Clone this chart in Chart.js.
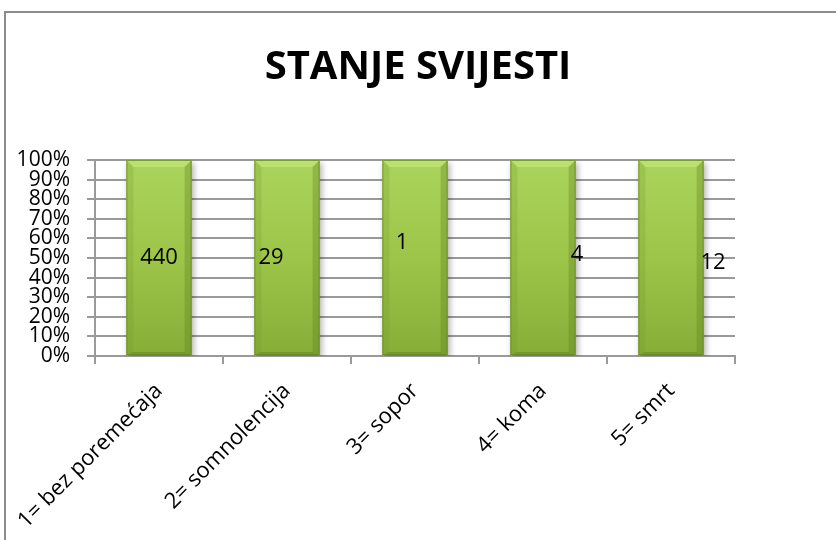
<!DOCTYPE html>
<html>
<head>
<meta charset="utf-8">
<script src="https://cdn.jsdelivr.net/npm/chart.js@4.4.0/dist/chart.umd.min.js"></script>
<style>
  html,body{margin:0;padding:0;background:#fff;overflow:hidden;}
  #wrap{position:relative;width:836px;height:540px;}
  #frame{position:absolute;left:4px;top:11px;width:900px;height:600px;border-left:2px solid #8c8c8c;border-top:2px solid #8c8c8c;}
  canvas{position:absolute;left:0;top:0;}
</style>
</head>
<body>
<div id="wrap">
  <div id="frame"></div>
  <canvas id="c" width="836" height="540"></canvas>
</div>
<script>
// data
var categories = ['1= bez poremećaja', '2= somnolencija', '3= sopor', '4= koma', '5= smrt'];
var counts = [440, 29, 1, 4, 12];
var yTicks = [0, 10, 20, 30, 40, 50, 60, 70, 80, 90, 100];

// label placement (px offset from bar centre, value-axis %)
var labelDx = [0, -16, -13, 34, 42];
var labelY = [50, 50, 57.6, 51.5, 47.4];

// single series in a 100% stacked chart -> every bar fills its column
var shares = counts.map(function (v) { var tot = v; return tot ? v / tot * 100 : 0; });

var FONT = "'Open Sans', sans-serif";

function barFill(context) {
    var chart = context.chart;
    var area = chart.chartArea;
    if (!area) return '#9cc44a';
    var g = chart.ctx.createLinearGradient(0, area.top, 0, area.bottom);
    g.addColorStop(0, '#abd45c');
    g.addColorStop(0.5, '#9cc549');
    g.addColorStop(1, '#87ad37');
    return g;
}

// soft drop shadow + bevel edges like the office style
var bevelPlugin = {
    id: 'bevel',
    beforeDatasetDraw: function (chart) {
        var ctx = chart.ctx;
        ctx.save();
        ctx.shadowColor = 'rgba(0,0,0,0.3)';
        ctx.shadowBlur = 6;
        ctx.shadowOffsetX = 2;
        ctx.shadowOffsetY = 3;
    },
    afterDatasetDraw: function (chart) {
        var ctx = chart.ctx;
        ctx.restore();
        var meta = chart.getDatasetMeta(0);
        var b = 7;
        meta.data.forEach(function (bar) {
            var p = bar.getProps(['x', 'y', 'base', 'width'], true);
            var l = p.x - p.width / 2, r = p.x + p.width / 2, t = p.y, btm = p.base;
            ctx.save();
            ctx.fillStyle = 'rgba(200,235,130,0.55)';
            ctx.beginPath();
            ctx.moveTo(l, t); ctx.lineTo(r, t); ctx.lineTo(r - b, t + b); ctx.lineTo(l + b, t + b); ctx.closePath();
            ctx.fill();
            ctx.fillStyle = 'rgba(110,150,40,0.22)';
            ctx.beginPath();
            ctx.moveTo(l, t); ctx.lineTo(l + b, t + b); ctx.lineTo(l + b, btm - 3); ctx.lineTo(l, btm); ctx.closePath();
            ctx.fill();
            ctx.fillStyle = 'rgba(90,125,30,0.32)';
            ctx.beginPath();
            ctx.moveTo(r, t); ctx.lineTo(r - b, t + b); ctx.lineTo(r - b, btm - 3); ctx.lineTo(r, btm); ctx.closePath();
            ctx.fill();
            ctx.fillStyle = 'rgba(80,110,25,0.35)';
            ctx.beginPath();
            ctx.moveTo(l, btm); ctx.lineTo(l + b, btm - 3); ctx.lineTo(r - b, btm - 3); ctx.lineTo(r, btm); ctx.closePath();
            ctx.fill();
            ctx.strokeStyle = 'rgba(105,140,40,0.8)';
            ctx.lineWidth = 1;
            ctx.strokeRect(l + 0.5, t + 0.5, p.width - 1, btm - t - 1);
            ctx.restore();
        });
    }
};

// value labels, placed like the manually moved labels in the original
var valueLabels = {
    id: 'valueLabels',
    afterDatasetsDraw: function (chart) {
        var ctx = chart.ctx;
        var yScale = chart.scales.y;
        var meta = chart.getDatasetMeta(0);
        ctx.save();
        ctx.font = '22px ' + FONT;
        ctx.fillStyle = '#000';
        ctx.textAlign = 'center';
        ctx.textBaseline = 'middle';
        meta.data.forEach(function (bar, i) {
            ctx.fillText(String(counts[i]), bar.x + labelDx[i], yScale.getPixelForValue(labelY[i]));
        });
        ctx.restore();
    }
};

new Chart(document.getElementById('c'), {
    type: 'bar',
    data: {
        labels: categories,
        datasets: [{
            label: 'STANJE SVIJESTI',
            data: shares,
            backgroundColor: barFill,
            borderWidth: 0,
            barPercentage: 0.51,
            categoryPercentage: 1
        }]
    },
    options: {
        responsive: false,
        animation: false,
        events: [],
        layout: { padding: 0 },
        plugins: {
            legend: { display: false },
            tooltip: { enabled: false },
            title: {
                display: true,
                text: 'STANJE SVIJESTI',
                color: '#000',
                font: { family: FONT, size: 40, weight: 'bold', lineHeight: 1.2 },
                padding: { top: 44, bottom: 68 }
            }
        },
        scales: {
            x: {
                stacked: true,
                offset: true,
                grid: { drawOnChartArea: false, drawTicks: true, tickLength: 8, color: '#9a9a9a', lineWidth: 2 },
                border: { display: true, color: '#9a9a9a', width: 2 },
                ticks: {
                    autoSkip: false,
                    minRotation: 45,
                    maxRotation: 45,
                    padding: 14,
                    color: '#000',
                    font: { family: FONT, size: 22 }
                },
                afterFit: function (s) { s.height = 184; s.paddingLeft = 0; s.paddingRight = 0; }
            },
            y: {
                stacked: true,
                min: 0,
                max: 100,
                afterBuildTicks: function (s) { s.ticks = yTicks.map(function (v) { return { value: v }; }); },
                grid: { color: '#9a9a9a', lineWidth: 2, tickLength: 8 },
                border: { display: true, color: '#9a9a9a', width: 2 },
                ticks: {
                    autoSkip: false,
                    padding: 17,
                    color: '#000',
                    font: { family: FONT, size: 21, lineHeight: 0.95 },
                    callback: function (v) { return v + '%'; }
                },
                afterFit: function (s) { s.width = 95; s.paddingTop = 0; s.paddingBottom = 0; }
            },
            // empty right-hand space, keeps the title centred on the whole page
            yRight: {
                position: 'right',
                min: 0,
                max: 100,
                grid: { display: false },
                border: { display: false },
                ticks: { display: false },
                afterFit: function (s) { s.width = 101; }
            }
        }
    },
    plugins: [bevelPlugin, valueLabels]
});
</script>
</body>
</html>
